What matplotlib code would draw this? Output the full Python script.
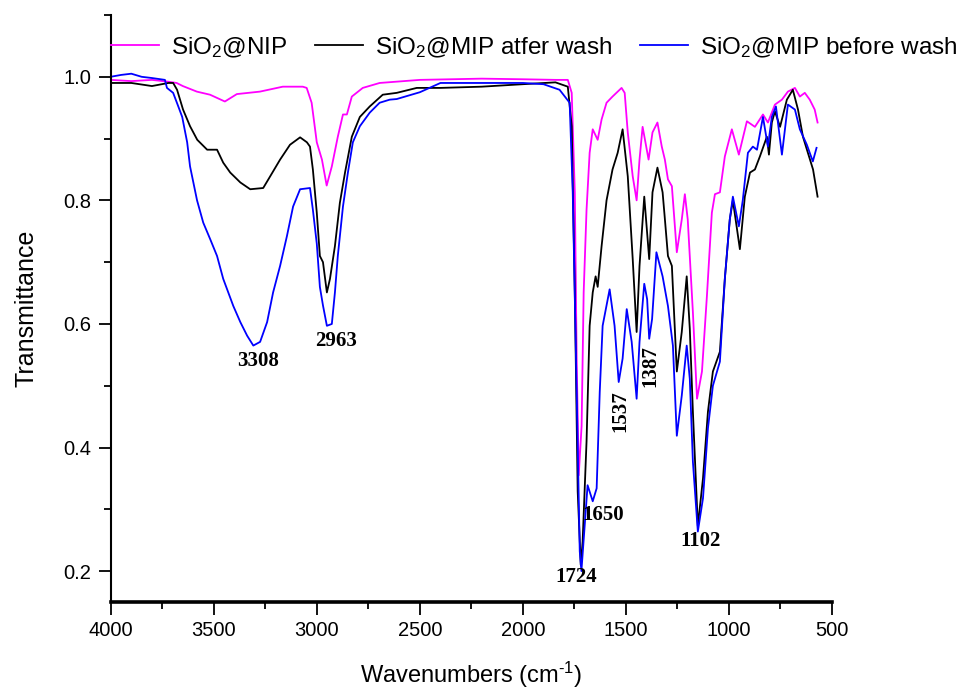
import matplotlib
matplotlib.use('Agg')
import matplotlib.pyplot as plt
from matplotlib.ticker import MultipleLocator

plt.rcParams['font.family'] = ['Liberation Sans', 'DejaVu Sans']
plt.rcParams['mathtext.fontset'] = 'custom'
plt.rcParams['mathtext.rm'] = 'Liberation Sans'
plt.rcParams['mathtext.it'] = 'Liberation Sans:italic'
plt.rcParams['mathtext.bf'] = 'Liberation Sans:bold'

# ---------------- data ----------------
series_labels = [r'SiO$_\mathregular{2}$@NIP',
                 r'SiO$_\mathregular{2}$@MIP atfer wash',
                 r'SiO$_\mathregular{2}$@MIP before wash']
series_colors = ['#FF00FF', '#000000', '#0000FF']

nip_wn = [4000, 3900, 3800, 3720, 3680, 3650, 3582, 3518, 3446, 3388, 3276, 3165, 3068, 3049,
          3025, 3000, 2975, 2952, 2927, 2898, 2873, 2854, 2830, 2777, 2695, 2500, 2200, 2000,
          1840, 1782, 1763, 1748, 1739, 1729, 1715, 1705, 1691, 1676, 1661, 1637, 1618, 1594,
          1565, 1521, 1506, 1491, 1467, 1448, 1434, 1419, 1390, 1371, 1347, 1326, 1311, 1296,
          1277, 1253, 1229, 1214, 1200, 1175, 1155, 1131, 1107, 1083, 1068, 1044, 1020, 986,
          952, 913, 874, 835, 811, 777, 743, 714, 680, 656, 632, 608, 584, 570]
nip_t = [0.995, 0.993, 0.995, 0.992, 0.990, 0.985, 0.976, 0.971, 0.960, 0.972, 0.976, 0.984, 0.984, 0.982,
         0.958, 0.894, 0.866, 0.824, 0.855, 0.903, 0.939, 0.939, 0.968, 0.982, 0.990, 0.995, 0.997, 0.996,
         0.995, 0.995, 0.974, 0.813, 0.544, 0.355, 0.435, 0.651, 0.785, 0.877, 0.915, 0.898, 0.931, 0.958,
         0.968, 0.982, 0.974, 0.910, 0.839, 0.800, 0.866, 0.919, 0.866, 0.910, 0.926, 0.887, 0.866, 0.834,
         0.823, 0.716, 0.769, 0.810, 0.769, 0.619, 0.479, 0.523, 0.645, 0.780, 0.810, 0.813, 0.871, 0.915,
         0.874, 0.928, 0.919, 0.939, 0.926, 0.955, 0.963, 0.976, 0.982, 0.968, 0.974, 0.963, 0.947, 0.926]

after_wn = [4000, 3900, 3800, 3720, 3697, 3678, 3649, 3615, 3580, 3532, 3484, 3454, 3420, 3371,
            3323, 3260, 3226, 3178, 3130, 3081, 3048, 3033, 3019, 3000, 2985, 2970, 2951, 2936,
            2912, 2888, 2863, 2830, 2791, 2743, 2680, 2612, 2515, 2400, 2200, 2000, 1842, 1782,
            1763, 1748, 1734, 1719, 1710, 1691, 1676, 1661, 1647, 1637, 1618, 1594, 1565, 1540,
            1516, 1491, 1467, 1448, 1434, 1411, 1387, 1371, 1347, 1322, 1312, 1296, 1277, 1253,
            1229, 1205, 1190, 1175, 1151, 1126, 1102, 1078, 1044, 1020, 996, 981, 947, 923,
            898, 874, 850, 816, 806, 792, 777, 752, 719, 690, 665, 641, 617, 592, 570]
after_t = [0.990, 0.990, 0.985, 0.990, 0.990, 0.979, 0.947, 0.920, 0.898, 0.882, 0.882, 0.861, 0.845, 0.829,
           0.818, 0.820, 0.839, 0.866, 0.890, 0.902, 0.894, 0.887, 0.850, 0.780, 0.710, 0.700, 0.651, 0.673,
           0.726, 0.796, 0.845, 0.903, 0.935, 0.952, 0.971, 0.974, 0.982, 0.982, 0.984, 0.988, 0.991, 0.984,
           0.920, 0.651, 0.329, 0.210, 0.248, 0.410, 0.597, 0.651, 0.677, 0.660, 0.726, 0.800, 0.850, 0.877,
           0.915, 0.839, 0.705, 0.587, 0.694, 0.806, 0.705, 0.813, 0.853, 0.813, 0.774, 0.710, 0.694, 0.523,
           0.587, 0.677, 0.592, 0.458, 0.273, 0.350, 0.458, 0.523, 0.555, 0.673, 0.769, 0.800, 0.721, 0.806,
           0.845, 0.850, 0.871, 0.903, 0.874, 0.926, 0.944, 0.919, 0.963, 0.979, 0.947, 0.903, 0.877, 0.850, 0.806]

before_wn = [4000, 3950, 3900, 3850, 3800, 3737, 3727, 3697, 3672, 3653, 3629, 3615, 3581, 3551,
             3517, 3484, 3454, 3405, 3371, 3338, 3308, 3275, 3241, 3212, 3178, 3145, 3115, 3081,
             3033, 3019, 3000, 2985, 2970, 2951, 2927, 2912, 2898, 2873, 2849, 2825, 2791, 2743,
             2695, 2646, 2612, 2500, 2400, 2200, 2000, 1900, 1822, 1773, 1758, 1739, 1724, 1716,
             1700, 1686, 1661, 1642, 1627, 1613, 1579, 1555, 1535, 1516, 1496, 1472, 1448, 1434,
             1411, 1397, 1387, 1373, 1352, 1322, 1296, 1272, 1253, 1229, 1205, 1190, 1175, 1151,
             1126, 1102, 1078, 1044, 1020, 996, 981, 952, 933, 908, 884, 864, 835, 811,
             792, 772, 743, 714, 680, 656, 622, 593, 575]
before_t = [1.000, 1.003, 1.005, 1.000, 0.998, 0.995, 0.982, 0.974, 0.952, 0.935, 0.894, 0.855, 0.800, 0.764,
            0.737, 0.710, 0.673, 0.629, 0.603, 0.581, 0.565, 0.571, 0.603, 0.651, 0.694, 0.742, 0.790, 0.818,
            0.820, 0.785, 0.730, 0.660, 0.630, 0.597, 0.600, 0.651, 0.710, 0.790, 0.845, 0.894, 0.920, 0.942,
            0.958, 0.963, 0.964, 0.975, 0.990, 0.990, 0.990, 0.988, 0.979, 0.958, 0.813, 0.490, 0.232, 0.200,
            0.274, 0.339, 0.313, 0.334, 0.490, 0.597, 0.656, 0.597, 0.506, 0.544, 0.624, 0.571, 0.479, 0.571,
            0.665, 0.640, 0.576, 0.608, 0.716, 0.677, 0.629, 0.565, 0.419, 0.484, 0.565, 0.511, 0.377, 0.264,
            0.318, 0.431, 0.500, 0.539, 0.673, 0.769, 0.806, 0.758, 0.800, 0.877, 0.887, 0.882, 0.935, 0.887,
            0.935, 0.952, 0.874, 0.955, 0.947, 0.915, 0.890, 0.863, 0.885]

peak_labels = ['3308', '2963', '1724', '1650', '1537', '1387', '1102']
peak_x = [3285, 2905, 1740, 1610, 1527, 1382, 1140]
peak_y = [0.540, 0.573, 0.190, 0.290, 0.459, 0.532, 0.248]
peak_rot = [0, 0, 0, 0, 90, 90, 0]

x_ticks = [4000, 3500, 3000, 2500, 2000, 1500, 1000, 500]
y_ticks = [0.2, 0.4, 0.6, 0.8, 1.0]

assert len(nip_wn) == len(nip_t)
assert len(after_wn) == len(after_t)
assert len(before_wn) == len(before_t)

# ---------------- figure ----------------
W, H = 965, 695
fig = plt.figure(figsize=(W / 100, H / 100), dpi=100)
left, right, top, bottom = 110.7, 832, 15, 602
ax = fig.add_axes([left / W, 1 - bottom / H, (right - left) / W, (bottom - top) / H])

for wn, t, lab, col in zip([nip_wn, after_wn, before_wn], [nip_t, after_t, before_t],
                           series_labels, series_colors):
    ax.plot(wn, t, color=col, lw=1.3, label=lab)

ax.set_xlim(4000, 500)
ax.set_ylim(0.15, 1.1)
ax.set_xticks(x_ticks)
ax.set_yticks(y_ticks)
ax.xaxis.set_minor_locator(MultipleLocator(250))
ax.yaxis.set_minor_locator(MultipleLocator(0.1))
ax.set_yticklabels([f'{v:.1f}' for v in y_ticks])

for s in ['top', 'right']:
    ax.spines[s].set_visible(False)
ax.spines['bottom'].set_linewidth(2.6)
ax.spines['left'].set_linewidth(1.5)

ax.tick_params(axis='both', which='major', direction='out', length=9, width=1.3,
               labelsize=14.5, pad=5)
ax.tick_params(axis='both', which='minor', direction='out', length=5, width=1.3)

ax.set_xlabel(r'Wavenumbers (cm$^{\text{-1}}$)', fontsize=17, labelpad=14)
ax.set_ylabel('Transmittance', fontsize=18, labelpad=18)

for lab, x, y, r in zip(peak_labels, peak_x, peak_y, peak_rot):
    ax.text(x, y, lab, ha='center', va='center', rotation=r,
            family='Liberation Serif', fontweight='bold', fontsize=15)

ax.legend(loc='center left', bbox_to_anchor=(0.0, 0.945), ncol=3, frameon=False,
          fontsize=17.5, handlelength=2.0, handletextpad=0.5, columnspacing=1.1,
          borderaxespad=0, borderpad=0)

fig.savefig('out.png', dpi=100)
